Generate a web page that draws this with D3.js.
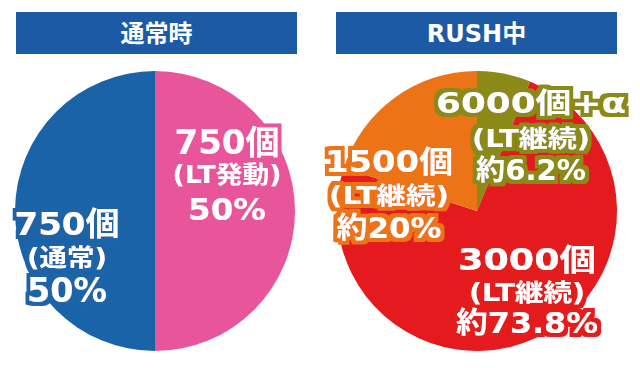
<!DOCTYPE html>
<html lang="ja">
<head>
<meta charset="UTF-8">
<title>通常時 / RUSH中</title>
<script src="https://cdn.jsdelivr.net/npm/d3@7"></script>
<style>
  body { margin: 0; background: #fff; }
  .title { font-family: "DejaVu Sans", "Noto Sans CJK JP", sans-serif; font-weight: bold; font-size: 24px; fill: #fff; }
  .label text {
    font-family: "DejaVu Sans", "Noto Sans CJK JP", sans-serif;
    font-weight: bold;
    fill: #fff;
  }
</style>
</head>
<body>
<script>
// data
const panelTitles = ["通常時", "RUSH中"];

const normalValues = [50, 50];
const normalColors = ["#e8559b", "#1b63a8"];
const normalLabels = [
  ["750個", "(LT発動)", "50%"],
  ["750個", "(通常)", "50%"]
];

const rushValues = [6.2, 73.8, 20];
const rushColors = ["#8c8a17", "#e51a1e", "#ec7316"];
const rushLabels = [
  ["6000個+α", "(LT継続)", "約6.2%"],
  ["3000個", "(LT継続)", "約73.8%"],
  ["1500個", "(LT継続)", "約20%"]
];

// label layout relative to the pie centre: x, and per line baseline / size / width
const normalLayout = [
  { x: 72, y: [-57, -28, 9], size: [33, 24, 31], w: [105, 109, 78] },
  { x: -88, y: [24, 55, 91], size: [32, 24, 33], w: [105, 80, 80] }
];
const rushLayout = [
  { x: 54, y: [-98, -64, -31], size: [28, 24, 28], w: [190, 118, 110] },
  { x: 50, y: [59, 90, 122], size: [30, 24, 29], w: [138, 116, 142] },
  { x: -88, y: [-39, -7, 27], size: [30, 24, 29], w: [128, 120, 105] }
];

const width = 640, height = 368;
const radius = 140;

const svg = d3.select("body").append("svg")
  .attr("width", width)
  .attr("height", height);

// outline filter: dilate the glyphs in the slice colour, thicken the white a little
const defs = svg.append("defs");
const allColors = normalColors.concat(rushColors);
allColors.forEach((c, i) => {
  const f = defs.append("filter")
    .attr("id", "outline" + i)
    .attr("filterUnits", "userSpaceOnUse")
    .attr("x", -200).attr("y", -200)
    .attr("width", 400).attr("height", 400);
  f.append("feMorphology")
    .attr("in", "SourceAlpha").attr("operator", "dilate")
    .attr("radius", 4).attr("result", "wide");
  f.append("feFlood").attr("flood-color", c).attr("result", "col");
  f.append("feComposite")
    .attr("in", "col").attr("in2", "wide")
    .attr("operator", "in").attr("result", "ring");
  f.append("feMorphology")
    .attr("in", "SourceGraphic").attr("operator", "dilate")
    .attr("radius", 0.35).attr("result", "thick");
  const m = f.append("feMerge");
  m.append("feMergeNode").attr("in", "ring");
  m.append("feMergeNode").attr("in", "thick");
});

const panels = [
  { title: panelTitles[0], values: normalValues, colors: normalColors, labels: normalLabels, layout: normalLayout, cx: 155, hx: 16, f0: 0 },
  { title: panelTitles[1], values: rushValues, colors: rushColors, labels: rushLabels, layout: rushLayout, cx: 477, hx: 336, f0: 2 }
];

const pie = d3.pie().sort(null).value(d => d);
const arc = d3.arc().innerRadius(0).outerRadius(radius);
const cy = 211;

panels.forEach(p => {
  // header bar
  svg.append("rect")
    .attr("x", p.hx).attr("y", 12)
    .attr("width", 281).attr("height", 42)
    .attr("fill", "#1d5aa5");
  svg.append("text")
    .attr("class", "title")
    .attr("x", p.hx + 140.5).attr("y", 42)
    .attr("text-anchor", "middle")
    .text(p.title);

  const g = svg.append("g").attr("transform", `translate(${p.cx},${cy})`);

  const arcs = pie(p.values);
  g.selectAll("path.slice")
    .data(arcs)
    .join("path")
    .attr("class", "slice")
    .attr("d", arc)
    .attr("fill", (d, i) => p.colors[i]);

  const labels = g.selectAll("g.label")
    .data(arcs)
    .join("g")
    .attr("class", "label")
    .attr("filter", (d, i) => `url(#outline${p.f0 + i})`);

  labels.each(function (d, i) {
    const lay = p.layout[i];
    const t = d3.select(this);
    p.labels[i].forEach((line, j) => {
      t.append("text")
        .attr("x", lay.x)
        .attr("y", lay.y[j])
        .attr("text-anchor", "middle")
        .attr("font-size", lay.size[j])
        .attr("textLength", lay.w[j])
        .attr("lengthAdjust", "spacingAndGlyphs")
        .text(line);
    });
  });
});
</script>
</body>
</html>
